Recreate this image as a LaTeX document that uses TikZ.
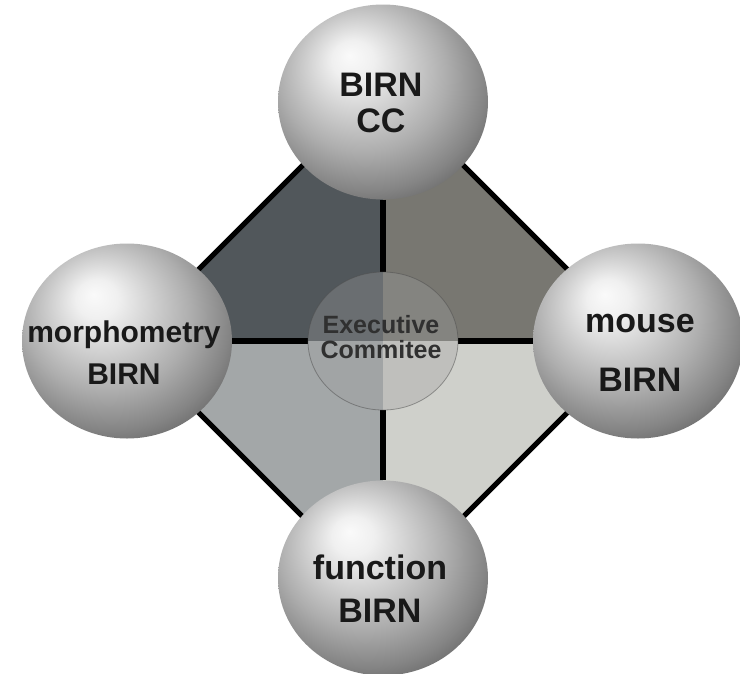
\documentclass[tikz,border=0pt]{standalone}
\usepackage{fontspec}
\setmainfont{Liberation Sans}
\usetikzlibrary{shapes.geometric,backgrounds}

% sfumatura delle sfere, luce in alto a sinistra
\pgfdeclareradialshading{argento}{\pgfpoint{-8bp}{12bp}}{%
  rgb(0bp)=(0.98,0.98,0.98);
  rgb(5bp)=(0.94,0.94,0.94);
  rgb(13bp)=(0.8,0.8,0.8);
  rgb(20bp)=(0.68,0.68,0.68);
  rgb(28bp)=(0.52,0.52,0.52);
  rgb(35bp)=(0.35,0.35,0.35);
  rgb(41bp)=(0.24,0.24,0.24);
  rgb(50bp)=(0.22,0.22,0.22)}

\definecolor{quadNO}{HTML}{51575B}
\definecolor{quadNE}{HTML}{787771}
\definecolor{quadSO}{HTML}{A3A7A8}
\definecolor{quadSE}{HTML}{CFD0CB}
\definecolor{testoexec}{HTML}{303030}

\tikzset{
  sfera/.style={ellipse, minimum width=210pt, minimum height=195pt,
    inner sep=0pt, shading=argento},
  testo/.style={align=center, text=black!90,
    font=\bfseries\fontsize{#1}{#1}\selectfont},
  bordo/.style={line width=5pt, black},
  divisore/.style={line width=6pt, black},
  comitato/.style={ellipse, minimum width=150pt, minimum height=138pt,
    inner sep=0pt, fill=gray!75, fill opacity=0.33,
    draw=gray!60!black, draw opacity=0.5, line width=0.8pt}
}

\begin{document}
\begin{tikzpicture}[x=1pt,y=-1pt]
    \useasboundingbox (0,0) rectangle (740,673);

    % Vertici del rombo
    \coordinate (o) at (383,341);
    \coordinate (n) at (383,85);
    \coordinate (s) at (383,597);
    \coordinate (w) at (127,341);
    \coordinate (e) at (639,341);

    % Sfere
    \node[sfera] (cc) at (383,102) {};
    \node[sfera] (morph) at (127,341) {};
    \node[sfera] (mouse) at (638,341) {};
    \node[sfera] (func) at (383,578) {};

    % Cerchio centrale
    \node[comitato] (exec) at (o) {};

    % Testi
    \node[testo=34, font=\bfseries\fontsize{34}{36}\selectfont] (cc-t) at (381,103) {BIRN\\CC};
    \node[testo=30, font=\bfseries\fontsize{30}{42}\selectfont] (morph-t) at (124,353) {morphometry\\BIRN};
    \node[testo=34, font=\bfseries\fontsize{34}{59}\selectfont] (mouse-t) at (640,353) {mouse\\BIRN};
    \node[testo=34, font=\bfseries\fontsize{34}{43}\selectfont] (func-t) at (380,589) {function\\BIRN};
    \node[align=center, text=testoexec, font=\bfseries\fontsize{25}{25}\selectfont] (exec-t) at (381,337) {Executive\\Commitee};

    \begin{scope}[on background layer]
        % Pagina bianca
        \fill[white] (0,0) rectangle (740,673);

        % Quadranti
        \fill[quadNO] (o) -- (n) -- (w) -- cycle;
        \fill[quadNE] (o) -- (n) -- (e) -- cycle;
        \fill[quadSO] (o) -- (s) -- (w) -- cycle;
        \fill[quadSE] (o) -- (s) -- (e) -- cycle;

        % Lati del rombo
        \draw[bordo] (n) -- (w) -- (s) -- (e) -- cycle;

        % Divisori
        \draw[divisore] (cc) -- (exec);
        \draw[divisore] (func) -- (exec);
        \draw[divisore] (morph) -- (exec);
        \draw[divisore] (mouse) -- (exec);
    \end{scope}
\end{tikzpicture}
\end{document}
